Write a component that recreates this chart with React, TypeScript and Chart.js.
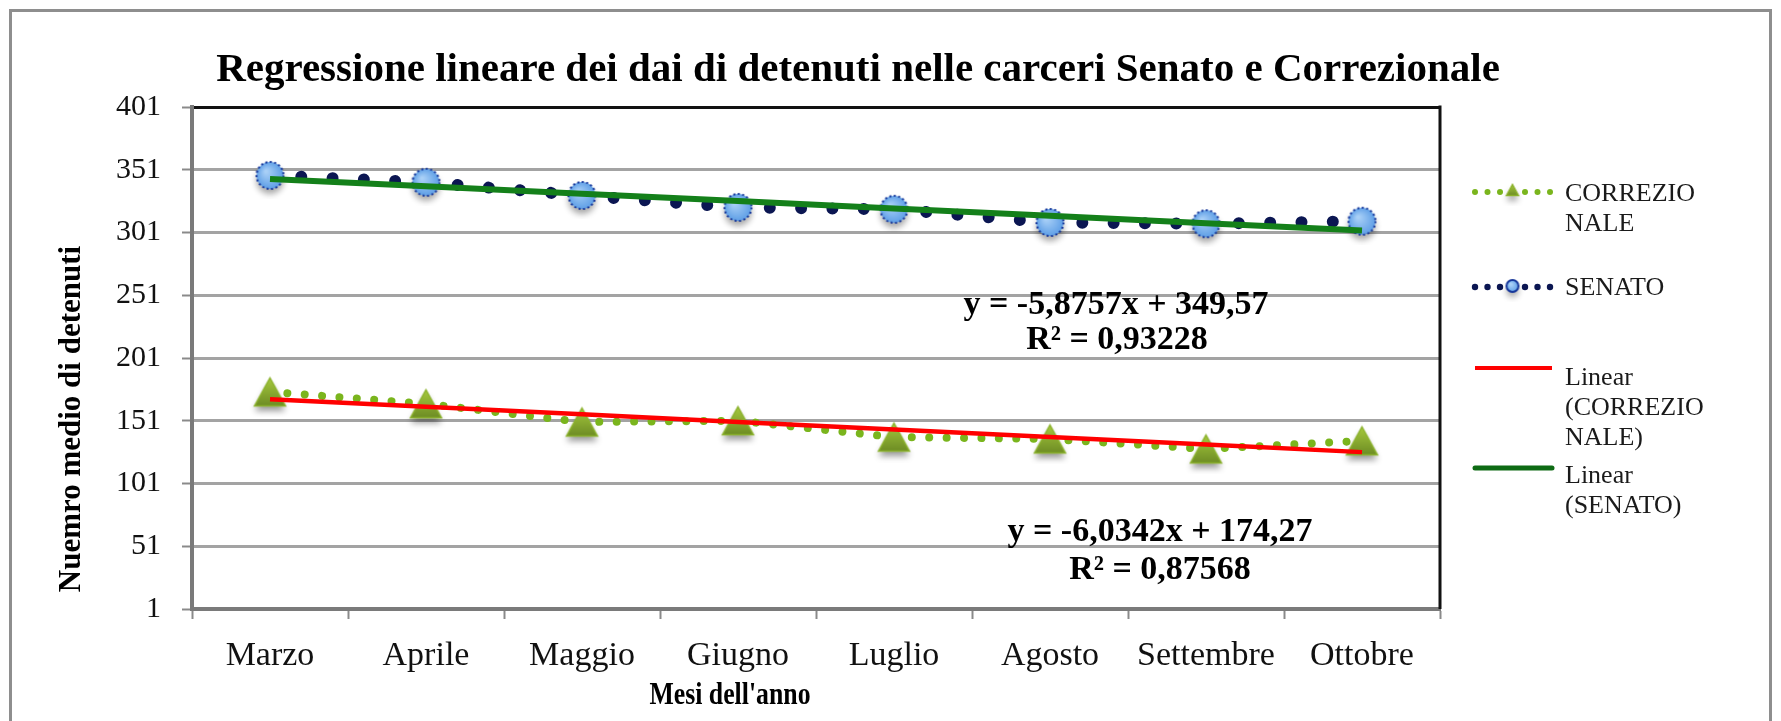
import React, { useEffect, useRef } from 'react';
import { Chart, registerables } from 'chart.js';

Chart.register(...registerables);

// ---- data ----
const months = ['Marzo', 'Aprile', 'Maggio', 'Giugno', 'Luglio', 'Agosto', 'Settembre', 'Ottobre'];
const senato = [346.5, 341, 330.5, 321, 319.5, 309, 308, 310];
const correzionale = [174, 164.5, 150, 151, 138, 136.5, 128.5, 135];
// linear trend lines (as drawn / given by the equations shown in the chart)
const trendSenato = [343.7, 337.8, 331.9, 326.1, 320.2, 314.3, 308.4, 302.6];
const trendCorrezionale = [168.2, 162.2, 156.2, 150.1, 144.1, 138.1, 132.0, 126.0];
const yTickValues = [1, 51, 101, 151, 201, 251, 301, 351, 401];

const chartTitle = 'Regressione lineare dei dai di detenuti nelle carceri Senato e Correzionale';
const xAxisTitle = "Mesi dell'anno";
const yAxisTitle = 'Nuemro medio di detenuti';
const eqSenato = ['y = -5,8757x + 349,57', 'R² = 0,93228'];
const eqCorrezionale = ['y = -6,0342x + 174,27', 'R² = 0,87568'];
const legendCorrezionale = ['CORREZIO', 'NALE'];
const legendSenato = ['SENATO'];
const legendLinCorr = ['Linear', '(CORREZIO', 'NALE)'];
const legendLinSen = ['Linear', '(SENATO)'];

const SERIF = "'Liberation Serif', 'Times New Roman', serif";
const NAVY = '#0b1652';
const LIME = '#7ab51d';
const RED = '#ff0000';
const GREEN = '#14801a';

function makeCircleMarker(r: number, dash = true): HTMLCanvasElement {
  const s = Math.ceil(r * 2 + 20);
  const c = document.createElement('canvas');
  c.width = s;
  c.height = s;
  const g = c.getContext('2d')!;
  const cx = s / 2;
  const cy = s / 2;
  g.save();
  g.shadowColor = 'rgba(0,0,0,0.35)';
  g.shadowBlur = 6;
  g.shadowOffsetY = 5;
  const grad = g.createRadialGradient(cx - r * 0.3, cy - r * 0.3, 1, cx, cy, r);
  grad.addColorStop(0, '#a9d0f7');
  grad.addColorStop(1, '#5f9fe6');
  g.fillStyle = grad;
  g.beginPath();
  g.arc(cx, cy, r, 0, Math.PI * 2);
  g.fill();
  g.restore();
  g.strokeStyle = '#17379a';
  g.lineWidth = 2;
  if (dash) g.setLineDash([2, 2.5]);
  g.beginPath();
  g.arc(cx, cy, r, 0, Math.PI * 2);
  g.stroke();
  return c;
}

function makeTriangleMarker(w: number, h: number): HTMLCanvasElement {
  const s = Math.ceil(Math.max(w, h) + 20);
  const c = document.createElement('canvas');
  c.width = s;
  c.height = s;
  const g = c.getContext('2d')!;
  const cx = s / 2;
  const cy = s / 2;
  g.save();
  g.shadowColor = 'rgba(0,0,0,0.4)';
  g.shadowBlur = 6;
  g.shadowOffsetY = 5;
  const grad = g.createLinearGradient(0, cy - h / 2, 0, cy + h / 2);
  grad.addColorStop(0, '#a6c93e');
  grad.addColorStop(1, '#6d8c24');
  g.fillStyle = grad;
  g.beginPath();
  g.moveTo(cx, cy - h / 2);
  g.lineTo(cx + w / 2, cy + h / 2);
  g.lineTo(cx - w / 2, cy + h / 2);
  g.closePath();
  g.fill();
  g.restore();
  g.strokeStyle = '#8bb22c';
  g.lineWidth = 1.5;
  g.beginPath();
  g.moveTo(cx, cy - h / 2);
  g.lineTo(cx + w / 2, cy + h / 2);
  g.lineTo(cx - w / 2, cy + h / 2);
  g.closePath();
  g.stroke();
  return c;
}

function makeDecorPlugin(triSmall: HTMLCanvasElement, circSmall: HTMLCanvasElement) {
  return {
    id: 'decor',
    beforeDraw(chart: any) {
      const ctx = chart.ctx as CanvasRenderingContext2D;
      ctx.save();
      ctx.fillStyle = '#ffffff';
      ctx.fillRect(0, 0, chart.width, chart.height);
      ctx.strokeStyle = '#8e8e8e';
      ctx.lineWidth = 3;
      ctx.strokeRect(10.5, 10.5, chart.width - 21, chart.height + 40);
      ctx.restore();
    },
    afterDatasetsDraw(chart: any) {
      const ctx = chart.ctx as CanvasRenderingContext2D;
      const a = chart.chartArea;
      ctx.save();
      ctx.strokeStyle = '#111';
      ctx.lineWidth = 3;
      ctx.beginPath();
      ctx.moveTo(a.right, a.top - 1.5);
      ctx.lineTo(a.right, a.bottom);
      ctx.stroke();
      ctx.restore();
    },
    afterDraw(chart: any) {
      const ctx = chart.ctx as CanvasRenderingContext2D;
      ctx.save();
      ctx.fillStyle = '#000';
      ctx.textAlign = 'center';
      ctx.textBaseline = 'middle';
      // chart title
      ctx.font = `bold 41px ${SERIF}`;
      ctx.fillText(chartTitle, 858, 70);
      // x axis title (slightly condensed, like the reference)
      ctx.save();
      ctx.translate(730, 696);
      ctx.scale(0.92, 1.12);
      ctx.font = `bold 28px ${SERIF}`;
      ctx.fillText(xAxisTitle, 0, 0);
      ctx.restore();
      // y axis title
      ctx.save();
      ctx.translate(72, 419);
      ctx.rotate(-Math.PI / 2);
      ctx.font = `bold 31px ${SERIF}`;
      ctx.fillText(yAxisTitle, 0, 0);
      ctx.restore();
      // regression equations
      ctx.font = `bold 34px ${SERIF}`;
      ctx.fillText(eqSenato[0], 1116, 305);
      ctx.fillText(eqSenato[1], 1117, 340);
      ctx.fillText(eqCorrezionale[0], 1160, 532);
      ctx.fillText(eqCorrezionale[1], 1160, 570);

      // legend
      const x0 = 1475;
      const x1 = 1550;
      const tx = 1565;
      const lh = 30;
      ctx.textAlign = 'left';
      ctx.font = `26px ${SERIF}`;
      const drawDots = (y: number, color: string, r: number) => {
        ctx.fillStyle = color;
        for (let i = 0; i < 7; i++) {
          if (i === 3) continue;
          const x = x0 + i * ((x1 - x0) / 6);
          ctx.beginPath();
          ctx.arc(x, y, r, 0, Math.PI * 2);
          ctx.fill();
        }
      };
      const drawLines = (lines: string[], y: number) => {
        ctx.fillStyle = '#1a1a1a';
        lines.forEach((t, i) => ctx.fillText(t, tx, y + i * lh));
      };
      // CORREZIONALE
      drawDots(192, LIME, 3);
      ctx.drawImage(triSmall, (x0 + x1) / 2 - triSmall.width / 2, 190 - triSmall.height / 2);
      drawLines(legendCorrezionale, 194);
      // SENATO
      drawDots(287, NAVY, 3.2);
      ctx.drawImage(circSmall, (x0 + x1) / 2 - circSmall.width / 2, 286 - circSmall.height / 2);
      drawLines(legendSenato, 288);
      // Linear (CORREZIONALE)
      ctx.strokeStyle = RED;
      ctx.lineWidth = 4;
      ctx.beginPath();
      ctx.moveTo(x0, 368);
      ctx.lineTo(x1 + 2, 368);
      ctx.stroke();
      drawLines(legendLinCorr, 378);
      // Linear (SENATO)
      ctx.strokeStyle = '#0e6b14';
      ctx.lineWidth = 5;
      ctx.lineCap = 'round';
      ctx.beginPath();
      ctx.moveTo(x0, 468);
      ctx.lineTo(x1 + 2, 468);
      ctx.stroke();
      drawLines(legendLinSen, 476);
      ctx.restore();
    },
  };
}

export default function App() {
  const ref = useRef<HTMLCanvasElement | null>(null);

  useEffect(() => {
    document.body.style.margin = '0';
    const canvas = ref.current!;
    const circle = makeCircleMarker(13.5);
    const tri = makeTriangleMarker(31, 28);
    const decor = makeDecorPlugin(makeTriangleMarker(12, 11), makeCircleMarker(6, false));
    const chart: any = new Chart(canvas, {
      type: 'line',
      data: {
        labels: months,
        datasets: [
          {
            label: 'Linear (SENATO)',
            data: trendSenato,
            borderColor: GREEN,
            borderWidth: 6,
            pointRadius: 0,
            order: 0,
          },
          {
            label: 'Linear (CORREZIONALE)',
            data: trendCorrezionale,
            borderColor: RED,
            borderWidth: 4.5,
            pointRadius: 0,
            order: 0,
          },
          {
            label: 'SENATO',
            data: senato,
            borderColor: NAVY,
            borderWidth: 12,
            borderDash: [0.01, 31.3],
            borderCapStyle: 'round',
            pointStyle: circle,
            pointRadius: 14,
            order: 1,
          },
          {
            label: 'CORREZIONALE',
            data: correzionale,
            borderColor: LIME,
            borderWidth: 8,
            borderDash: [0.01, 17.4],
            borderCapStyle: 'round',
            pointStyle: tri,
            pointRadius: 14,
            order: 1,
          },
        ],
      },
      options: {
        responsive: false,
        animation: false,
        events: [],
        layout: { padding: { left: 53, right: 341, top: 107, bottom: 9 } },
        plugins: {
          legend: { display: false },
          title: { display: false },
          tooltip: { enabled: false },
        },
        scales: {
          x: {
            offset: true,
            grid: {
              offset: true,
              drawOnChartArea: false,
              drawTicks: true,
              tickLength: 10,
              tickColor: '#8a8a8a',
              tickWidth: 2,
            },
            border: { color: '#7a7a7a', width: 4 },
            ticks: {
              color: '#111',
              font: { family: SERIF, size: 34 },
              padding: 17,
              maxRotation: 0,
              autoSkip: false,
            },
            afterFit: (axis: any) => {
              axis.height = 103;
            },
          },
          y: {
            min: 1,
            max: 401,
            afterBuildTicks: (axis: any) => {
              axis.ticks = yTickValues.map((v) => ({ value: v }));
            },
            grid: {
              color: (c: any) => (c.tick && c.tick.value === 401 ? '#111' : '#a3a3a3'),
              lineWidth: 3,
              drawTicks: true,
              tickLength: 10,
              tickColor: '#8a8a8a',
              tickWidth: 2,
            },
            border: { color: '#7a7a7a', width: 4 },
            ticks: {
              color: '#111',
              font: { family: SERIF, size: 30 },
              padding: 21,
              callback: (v: any) => String(v),
            },
            afterFit: (axis: any) => {
              axis.width = 139;
            },
          },
        },
      },
      plugins: [decor],
    });
    return () => chart.destroy();
  }, []);

  return (
    <div style={{ width: 1781, height: 721 }}>
      <canvas ref={ref} width={1781} height={721} />
    </div>
  );
}
